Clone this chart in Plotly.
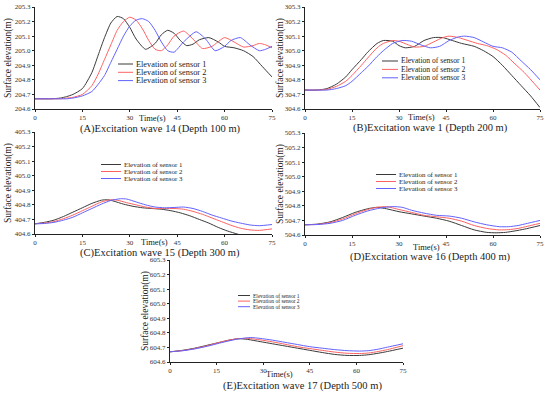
import plotly.graph_objects as go

# ---------------- data ----------------
# Panel A: Excitation wave 14 (Depth 100 m)
a_t1 = [0, 5, 8, 10, 12, 15, 18, 20, 22, 24, 26, 28, 30, 32, 35, 38, 40, 42, 44, 46, 48, 50, 52, 55, 58, 60, 63, 66, 69, 72, 75]
a_s1 = [204.67, 204.67, 204.675, 204.685, 204.7, 204.74, 204.85, 204.97, 205.09, 205.19, 205.235, 205.22, 205.16, 205.08, 205.01, 205.05, 205.11, 205.14, 205.12, 205.07, 205.035, 205.045, 205.075, 205.09, 205.06, 205.03, 205.02, 205.0, 204.96, 204.89, 204.82]
a_t2 = [0, 5, 8, 10, 12, 15, 18, 20, 22, 24, 26, 28, 30, 32, 34, 36, 38, 40, 42, 44, 47, 50, 53, 56, 60, 63, 66, 69, 71, 73, 75]
a_s2 = [204.67, 204.67, 204.67, 204.675, 204.68, 204.70, 204.76, 204.84, 204.94, 205.04, 205.14, 205.2, 205.23, 205.21, 205.15, 205.07, 205.01, 205.0, 205.04, 205.1, 205.135, 205.08, 205.015, 205.03, 205.09, 205.06, 205.025, 205.035, 205.05, 205.04, 205.02]
a_t3 = [0, 5, 8, 10, 12, 15, 18, 20, 22, 24, 26, 28, 30, 32, 34, 36, 38, 40, 42, 44, 47, 51, 54, 57, 60, 62, 65, 68, 71, 73, 75]
a_s3 = [204.67, 204.67, 204.67, 204.67, 204.675, 204.69, 204.72, 204.77, 204.83, 204.92, 205.01, 205.1, 205.17, 205.21, 205.22, 205.2, 205.14, 205.06, 205.0, 204.99, 205.06, 205.13, 205.08, 205.0, 205.03, 205.07, 205.09, 205.04, 205.0, 205.01, 205.03]

# Panel B: Excitation wave 1 (Depth 200 m)
b_t1 = [0, 4, 7, 10, 13, 15, 18, 20, 23, 25, 28, 30, 32, 35, 38, 41, 44, 47, 50, 54, 57, 60, 63, 66, 69, 72, 75]
b_s1 = [304.73, 304.73, 304.74, 304.77, 304.82, 304.87, 304.94, 304.99, 305.05, 305.07, 305.065, 305.035, 305.02, 305.03, 305.07, 305.09, 305.09, 305.07, 305.05, 305.03, 305.0, 304.96, 304.9, 304.83, 304.76, 304.69, 304.61]
b_t2 = [0, 4, 7, 10, 13, 15, 18, 20, 23, 25, 28, 30, 33, 35, 38, 41, 44, 46, 49, 52, 55, 58, 61, 64, 67, 70, 75]
b_s2 = [304.73, 304.73, 304.735, 304.755, 304.79, 304.83, 304.9, 304.95, 305.02, 305.05, 305.07, 305.065, 305.04, 305.025, 305.03, 305.06, 305.09, 305.1, 305.09, 305.07, 305.05, 305.035, 305.01, 304.97, 304.91, 304.85, 304.73]
b_t3 = [0, 4, 7, 10, 13, 15, 18, 20, 23, 25, 28, 31, 34, 37, 40, 43, 46, 49, 51, 54, 57, 60, 63, 66, 69, 72, 75]
b_s3 = [304.73, 304.73, 304.73, 304.74, 304.76, 304.79, 304.85, 304.89, 304.96, 305.0, 305.05, 305.07, 305.065, 305.04, 305.02, 305.03, 305.07, 305.095, 305.1, 305.09, 305.06, 305.03, 305.02, 304.99, 304.93, 304.87, 304.80]

# Panel C: Excitation wave 15 (Depth 300 m)
c_t1 = [0, 3, 6, 9, 12, 15, 18, 21, 23, 25, 28, 31, 34, 37, 40, 43, 46, 49, 52, 55, 58, 61, 64, 67, 70, 75]
c_s1 = [404.67, 404.68, 404.695, 404.72, 404.75, 404.78, 404.81, 404.832, 404.835, 404.825, 404.805, 404.79, 404.78, 404.775, 404.77, 404.76, 404.745, 404.725, 404.7, 404.675, 404.645, 404.62, 404.6, 404.58, 404.57, 404.56]
c_t2 = [0, 3, 6, 9, 12, 15, 18, 21, 24, 26, 29, 32, 35, 38, 41, 44, 47, 50, 53, 56, 59, 62, 65, 68, 71, 75]
c_s2 = [404.67, 404.675, 404.685, 404.705, 404.73, 404.76, 404.79, 404.82, 404.835, 404.832, 404.815, 404.8, 404.785, 404.775, 404.775, 404.775, 404.77, 404.755, 404.735, 404.71, 404.685, 404.66, 404.64, 404.628, 404.625, 404.635]
c_t3 = [0, 3, 6, 9, 12, 15, 18, 21, 24, 27, 29, 32, 35, 38, 41, 44, 47, 50, 53, 56, 59, 62, 65, 68, 71, 75]
c_s3 = [404.67, 404.672, 404.68, 404.695, 404.715, 404.745, 404.775, 404.805, 404.83, 404.842, 404.84, 404.82, 404.8, 404.785, 404.78, 404.782, 404.785, 404.775, 404.755, 404.73, 404.71, 404.69, 404.675, 404.662, 404.657, 404.665]

# Panel D: Excitation wave 16 (Depth 400 m)
d_t1 = [0, 4, 8, 12, 16, 20, 23, 26, 30, 34, 38, 42, 46, 50, 54, 58, 61, 64, 67, 70, 75]
d_s1 = [504.67, 504.675, 504.69, 504.72, 504.755, 504.78, 504.79, 504.78, 504.76, 504.745, 504.73, 504.715, 504.695, 504.665, 504.635, 504.618, 504.615, 504.618, 504.628, 504.64, 504.665]
d_t2 = [0, 4, 8, 12, 16, 20, 23, 26, 30, 34, 38, 42, 46, 50, 54, 58, 62, 65, 68, 71, 75]
d_s2 = [504.67, 504.673, 504.685, 504.71, 504.745, 504.775, 504.79, 504.795, 504.775, 504.755, 504.735, 504.725, 504.715, 504.695, 504.665, 504.645, 504.635, 504.637, 504.645, 504.66, 504.68]
d_t3 = [0, 4, 8, 12, 16, 20, 24, 28, 31, 34, 38, 42, 46, 50, 54, 58, 62, 65, 68, 71, 75]
d_s3 = [504.67, 504.672, 504.68, 504.7, 504.735, 504.765, 504.785, 504.795, 504.79, 504.77, 504.75, 504.735, 504.73, 504.715, 504.69, 504.67, 504.657, 504.657, 504.665, 504.68, 504.70]

# Panel E: Excitation wave 17 (Depth 500 m)
e_t1 = [0, 4, 8, 12, 16, 19, 22, 25, 29, 33, 37, 41, 45, 49, 53, 57, 61, 64, 67, 70, 75]
e_s1 = [604.67, 604.68, 604.695, 604.715, 604.735, 604.75, 604.76, 604.755, 604.74, 604.725, 604.71, 604.695, 604.68, 604.665, 604.652, 604.645, 604.645, 604.65, 604.66, 604.672, 604.695]
e_t2 = [0, 4, 8, 12, 16, 19, 22, 25, 29, 33, 37, 41, 45, 49, 53, 57, 61, 64, 67, 70, 75]
e_s2 = [604.67, 604.678, 604.692, 604.712, 604.735, 604.75, 604.76, 604.762, 604.752, 604.738, 604.722, 604.705, 604.692, 604.68, 604.668, 604.66, 604.658, 604.662, 604.672, 604.685, 604.712]
e_t3 = [0, 4, 8, 12, 16, 19, 22, 26, 29, 33, 37, 41, 45, 49, 53, 57, 61, 64, 67, 70, 75]
e_s3 = [604.67, 604.677, 604.69, 604.708, 604.73, 604.745, 604.758, 604.768, 604.762, 604.75, 604.735, 604.72, 604.705, 604.695, 604.685, 604.678, 604.675, 604.678, 604.688, 604.702, 604.725]

series_names = ["Elevation of sensor 1", "Elevation of sensor 2", "Elevation of sensor 3"]
colors = ["#3a3a3a", "#ff6262", "#6262ff"]
x_ticks = [0, 15, 30, 45, 60, 75]
captions = ["(A)Excitation wave 14 (Depth 100 m)", "(B)Excitation wave 1 (Depth 200 m)",
            "(C)Excitation wave 15 (Depth 300 m)", "(D)Excitation wave 16 (Depth 400 m)",
            "(E)Excitation wave 17 (Depth 500 m)"]
y_bases = [204.6, 304.6, 404.6, 504.6, 604.6]

panels = [
    ([a_t1, a_t2, a_t3], [a_s1, a_s2, a_s3]),
    ([b_t1, b_t2, b_t3], [b_s1, b_s2, b_s3]),
    ([c_t1, c_t2, c_t3], [c_s1, c_s2, c_s3]),
    ([d_t1, d_t2, d_t3], [d_s1, d_s2, d_s3]),
    ([e_t1, e_t2, e_t3], [e_s1, e_s2, e_s3]),
]

# ---------------- layout geometry (pixels in a 550x394 canvas) ----------------
W, H = 550, 394
boxes = [  # x0, x1, ytop, ybottom
    (35, 272, 7, 109),
    (305, 540, 7, 109),
    (35, 272, 132, 234),
    (305, 540, 133, 235),
    (170, 403, 260, 362),
]
# legend: x of line start, x of text start, y of first row, row gap, font size
legends = [
    (118, 134, 64, 8.3, 8.3),
    (382, 399, 61, 8.4, 7.6),
    (101, 122, 164.5, 7.0, 6.9),
    (376, 397, 174.5, 7.0, 6.9),
    (238, 251, 295.5, 5.6, 5.5),
]
captions_xy = [(160, 128.5), (430, 128), (160, 253), (430, 257), (302, 386)]
timelbl = [(152, 118), (422, 117), (154, 242), (426, 247), (280, 374)]
ylbl_x = [8, 280, 8, 280, 145]

SERIF = "Liberation Serif, Times New Roman, serif"

fig = go.Figure()
layout = dict(
    template="none",
    width=W, height=H, margin=dict(l=0, r=0, t=0, b=0, autoexpand=False),
    paper_bgcolor="white", plot_bgcolor="white", showlegend=False,
    font=dict(family=SERIF, color="#222"),
)
annotations = []
shapes = []

for i, ((ts, vs), box) in enumerate(zip(panels, boxes)):
    n = i + 1
    xa = "x" if n == 1 else f"x{n}"
    ya = "y" if n == 1 else f"y{n}"
    x0, x1, yt, yb = box
    for k in range(3):
        fig.add_trace(go.Scatter(x=ts[k], y=vs[k], mode="lines",
                                 line=dict(color=colors[k], width=1, shape="spline", smoothing=0.6),
                                 name=series_names[k], xaxis=xa, yaxis=ya, hoverinfo="skip"))
    base = y_bases[i]
    yticks = [round(base + 0.1 * j, 1) for j in range(8)]
    layout[f"xaxis{'' if n == 1 else n}"] = dict(
        domain=[x0 / W, x1 / W], range=[0, 75], anchor=ya, automargin=False,
        tickvals=x_ticks, ticks="outside", ticklen=2, tickcolor="#222",
        showline=True, linecolor="#222", linewidth=1, showgrid=False, zeroline=False,
        tickfont=dict(size=7, family=SERIF, color="#333"), fixedrange=True,
    )
    layout[f"yaxis{'' if n == 1 else n}"] = dict(
        domain=[1 - yb / H, 1 - yt / H], range=[base, base + 0.7], anchor=xa, automargin=False,
        tickvals=yticks, tickformat=".1f", ticks="outside", ticklen=2, tickcolor="#222",
        showline=True, linecolor="#222", linewidth=1, showgrid=False, zeroline=False,
        tickfont=dict(size=7, family=SERIF, color="#333"), fixedrange=True,
    )
    # y label
    annotations.append(dict(text="Surface elevation(m)", x=ylbl_x[i] / W, y=1 - ((yt + yb) / 2) / H,
                            xref="paper", yref="paper", showarrow=False, textangle=-90,
                            font=dict(size=9.5, family=SERIF, color="#222"),
                            xanchor="center", yanchor="middle"))
    # Time(s)
    tx, ty = timelbl[i]
    annotations.append(dict(text="Time(s)", x=tx / W, y=1 - ty / H, xref="paper", yref="paper",
                            showarrow=False, font=dict(size=8.5, family=SERIF, color="#222"),
                            xanchor="center", yanchor="middle"))
    # caption
    cx, cy = captions_xy[i]
    annotations.append(dict(text=captions[i], x=cx / W, y=1 - cy / H,
                            xref="paper", yref="paper", showarrow=False,
                            font=dict(size=10.5, family=SERIF, color="#222"),
                            xanchor="center", yanchor="middle"))
    # legend (drawn manually)
    lx, tx0, ly, gap, fs = legends[i]
    for k in range(3):
        yy = 1 - (ly + k * gap) / H
        shapes.append(dict(type="line", xref="paper", yref="paper",
                           x0=lx / W, x1=(tx0 - 1) / W, y0=yy, y1=yy,
                           line=dict(color=colors[k], width=1)))
        annotations.append(dict(text=series_names[k], x=tx0 / W, y=yy, xref="paper", yref="paper",
                                showarrow=False, xanchor="left", yanchor="middle",
                                font=dict(size=fs, family=SERIF, color="#222")))

layout["annotations"] = annotations
layout["shapes"] = shapes
fig.update_layout(**layout)
fig.write_html("out.html", config={"displayModeBar": False, "staticPlot": True},
               post_script="document.body.style.margin='0';document.body.style.overflow='hidden';")
